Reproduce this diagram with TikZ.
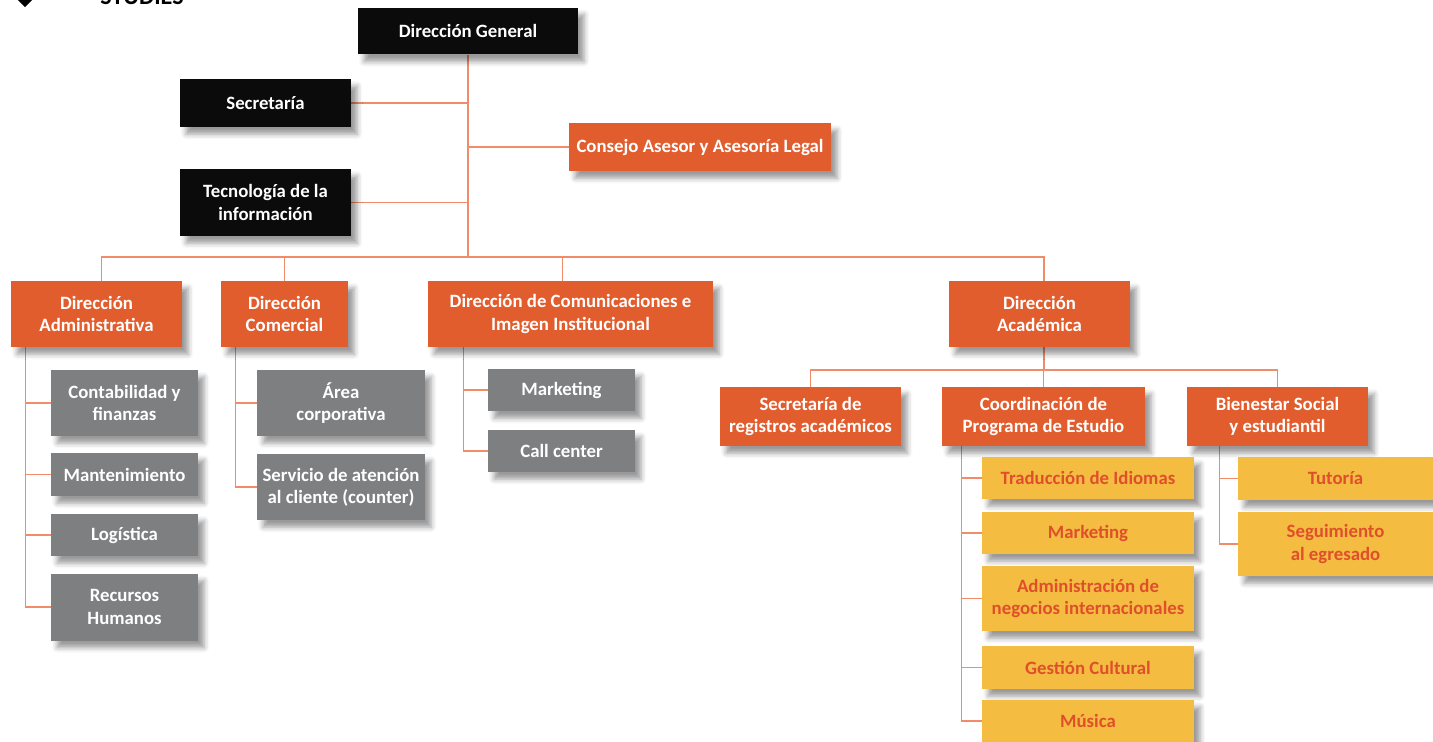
\documentclass[tikz,border=0pt]{standalone}
\usepackage{fontspec}
\setmainfont{Carlito}
\usetikzlibrary{backgrounds,shadows.blur}
\definecolor{negro}{HTML}{0B0B0C}
\definecolor{naranja}{HTML}{E25D2E}
\definecolor{gris}{HTML}{7E7F81}
\definecolor{amarillo}{HTML}{F4BD42}
\definecolor{rojizo}{HTML}{E04F2B}
\definecolor{lineacol}{HTML}{F08C6A}

\begin{document}
\begin{tikzpicture}[x=0.02cm,y=-0.02cm,
    caja/.style={inner sep=2pt,align=center,text=white,
      font=\bfseries\fontsize{10.7}{12.6}\selectfont,
      blur shadow={shadow xshift=3.5pt,shadow yshift=-4pt,shadow blur radius=3pt,shadow opacity=40}},
    cajanegra/.style={caja,fill=negro},
    cajanaranja/.style={caja,fill=naranja},
    cajagris/.style={caja,fill=gris},
    cajaamarilla/.style={caja,fill=amarillo,text=rojizo},
    linea/.style={draw=lineacol,line width=0.8pt}]
  \clip (0,0) rectangle (1433,741);
  \fill (15,-3) -- (25,7) -- (35,-3) -- cycle;
  \node[anchor=base west,inner sep=0,font=\bfseries\fontsize{13.7}{16}\selectfont] (logo) at (100,4) {STUDIES};

  \node[cajanegra,minimum width=4.4cm,minimum height=0.94cm] (dg) at (468,31) {Dirección General};
  \node[cajanegra,minimum width=3.42cm,minimum height=0.96cm] (sec) at (265.5,103) {Secretaría};
  \node[cajanaranja,minimum width=5.24cm,minimum height=0.96cm] (cons) at (700,147) {Consejo Asesor y Asesoría Legal};
  \node[cajanegra,minimum width=3.42cm,minimum height=1.34cm] (tec) at (265.5,202.5) {Tecnología de la\\información};

  \node[cajanaranja,minimum width=3.42cm,minimum height=1.32cm] (dadm) at (96.5,314) {Dirección\\Administrativa};
  \node[cajanaranja,minimum width=2.54cm,minimum height=1.32cm] (dcom) at (284.5,314) {Dirección\\Comercial};
  \node[cajanaranja,minimum width=5.7cm,minimum height=1.32cm] (dcomu) at (570.5,314) {Dirección de Comunicaciones e\\Imagen Institucional};
  \node[cajanaranja,minimum width=3.62cm,minimum height=1.32cm] (daca) at (1039.5,314) {Dirección\\Académica};

  \node[cajagris,minimum width=2.94cm,minimum height=1.32cm] (cont) at (124.5,403) {Contabilidad y\\finanzas};
  \node[cajagris,minimum width=2.94cm,minimum height=0.86cm] (mant) at (124.5,474.5) {Mantenimiento};
  \node[cajagris,minimum width=2.94cm,minimum height=0.84cm] (logi) at (124.5,535) {Logística};
  \node[cajagris,minimum width=2.94cm,minimum height=1.34cm] (rrhh) at (124.5,607) {Recursos\\Humanos};

  \node[cajagris,minimum width=3.36cm,minimum height=1.32cm] (acorp) at (341,403) {Área\\corporativa};
  \node[cajagris,minimum width=3.36cm,minimum height=1.32cm] (sac) at (341,487) {Servicio de atención\\al cliente (counter)};

  \node[cajagris,minimum width=2.94cm,minimum height=0.84cm] (mkt) at (561.5,390) {Marketing};
  \node[cajagris,minimum width=2.94cm,minimum height=0.84cm] (callc) at (561.5,451) {Call center};

  \node[cajanaranja,minimum width=3.62cm,minimum height=1.18cm] (sra) at (810.5,416.5) {Secretaría de\\registros académicos};
  \node[cajanaranja,minimum width=4.06cm,minimum height=1.18cm] (cpe) at (1043.5,416.5) {Coordinación de\\Programa de Estudio};
  \node[cajanaranja,minimum width=3.62cm,minimum height=1.18cm] (bse) at (1277.5,416.5) {Bienestar Social\\y estudiantil};

  \node[cajaamarilla,minimum width=4.24cm,minimum height=0.84cm] (trad) at (1088,478) {Traducción de Idiomas};
  \node[cajaamarilla,minimum width=4.24cm,minimum height=0.84cm] (mkt2) at (1088,533) {Marketing};
  \node[cajaamarilla,minimum width=4.24cm,minimum height=1.3cm] (adni) at (1088,598.5) {Administración de\\negocios internacionales};
  \node[cajaamarilla,minimum width=4.24cm,minimum height=0.86cm] (gcul) at (1088,667.5) {Gestión Cultural};
  \node[cajaamarilla,minimum width=4.24cm,minimum height=0.84cm] (musi) at (1088,721) {Música};

  \node[cajaamarilla,minimum width=3.9cm,minimum height=0.86cm] (tuto) at (1335.5,478.5) {Tutoría};
  \node[cajaamarilla,minimum width=3.9cm,minimum height=1.28cm] (segu) at (1335.5,544) {Seguimiento\\al egresado};

  \coordinate (bus) at (468,257);
  \coordinate (acb) at (1044,370);
  \coordinate (badm) at ([xshift=0.1cm]dadm.north);
  \coordinate (bcomu) at ([xshift=-0.16cm]dcomu.north);
  \coordinate (baca) at ([xshift=0.09cm]daca.north);
  \coordinate (tadm) at ([xshift=0.3cm]dadm.south west);
  \coordinate (tcom) at ([xshift=0.3cm]dcom.south west);
  \coordinate (tcomu) at ([xshift=0.72cm]dcomu.south west);
  \coordinate (tcpe) at ([xshift=0.4cm]cpe.south west);
  \coordinate (tbse) at ([xshift=0.66cm]bse.south west);

  \begin{scope}[on background layer]
    \draw[linea] (dg.south) -- (bus);
    \draw[linea] (sec.east) -- (sec.east -| dg.south);
    \draw[linea] (tec.east) -- (tec.east -| dg.south);
    \draw[linea] (cons.west) -- (cons.west -| dg.south);
    \draw[linea] (badm) |- (bus) -| (baca);
    \draw[linea] (dcom.north) -- (dcom.north |- bus);
    \draw[linea] (bcomu) -- (bcomu |- bus);

    \draw[linea] (tadm) |- (rrhh.west);
    \foreach \n in {cont,mant,logi}
      \draw[linea] (\n.west) -- (\n.west -| tadm);
    \draw[linea] (tcom) |- (sac.west);
    \draw[linea] (acorp.west) -- (acorp.west -| tcom);
    \draw[linea] (tcomu) |- (callc.west);
    \draw[linea] (mkt.west) -- (mkt.west -| tcomu);

    \draw[linea] (acb |- daca.south) -- (acb);
    \draw[linea] (sra.north) |- (acb) -| (bse.north);
    \draw[linea] (cpe.north) -- (cpe.north |- acb);
    \draw[linea] (tcpe) |- (musi.west);
    \foreach \n in {trad,mkt2,adni,gcul}
      \draw[linea] (\n.west) -- (\n.west -| tcpe);
    \draw[linea] (tbse) |- (segu.west);
    \draw[linea] (tuto.west) -- (tuto.west -| tbse);
  \end{scope}
\end{tikzpicture}
\end{document}
